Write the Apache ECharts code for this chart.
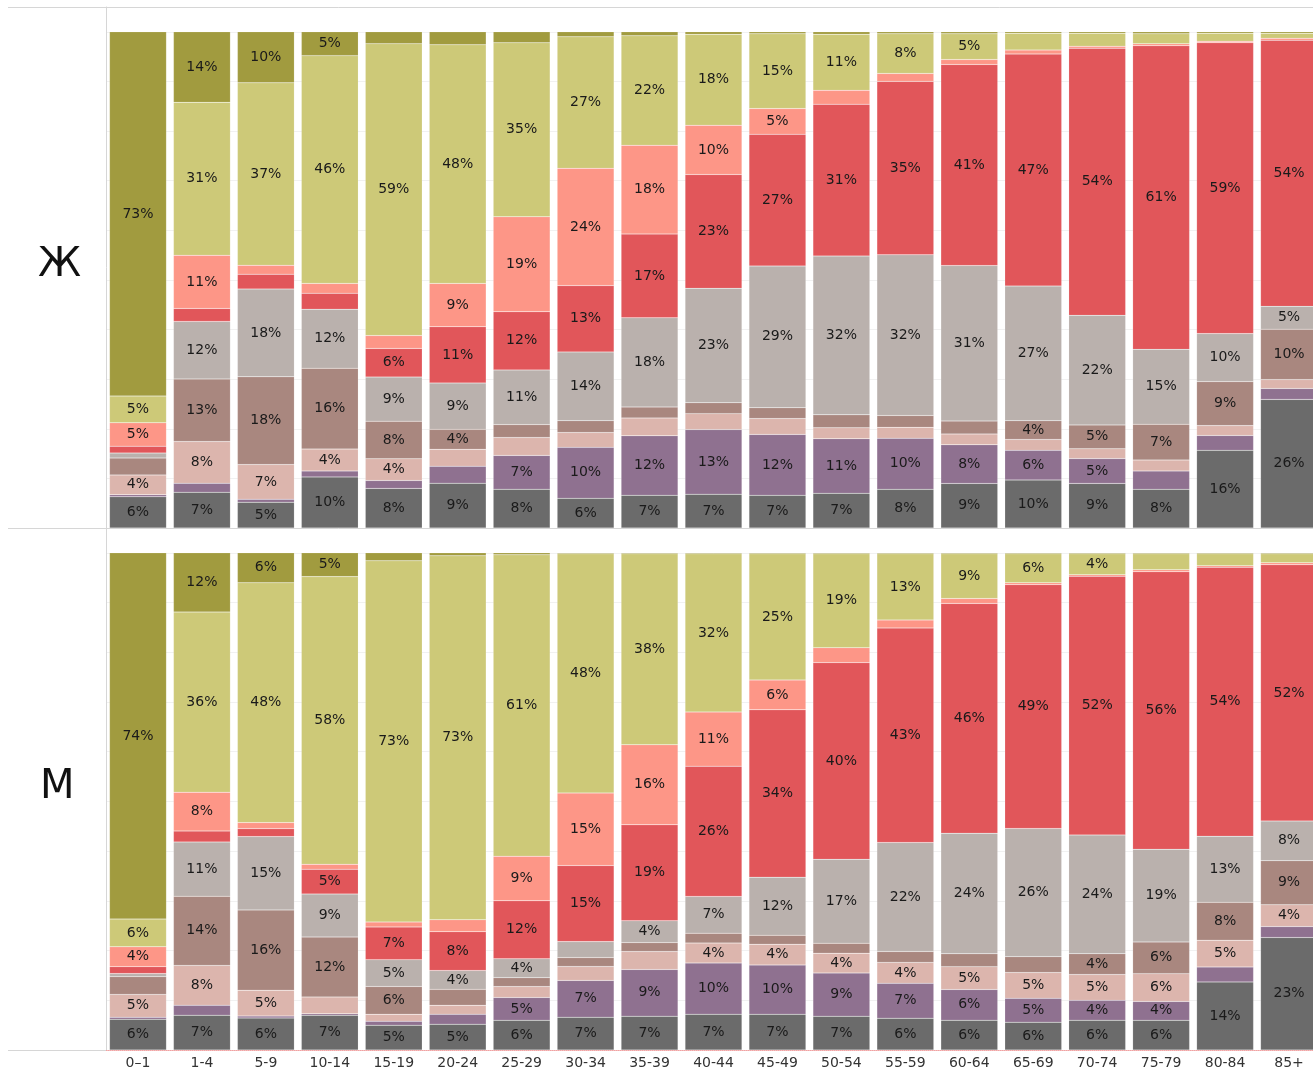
<!DOCTYPE html>
<html><head><meta charset="utf-8">
<script src="https://cdn.jsdelivr.net/npm/echarts@6/dist/echarts.min.js"></script>
<style>html,body{margin:0;padding:0;overflow:hidden;background:#fff}#c{width:1330px;height:1071px}</style>
</head><body><div id="c"></div>
<script>
const categories = ['0–1','1-4','5-9','10-14','15-19','20-24','25-29','30-34','35-39','40-44','45-49','50-54','55-59','60-64','65-69','70-74','75-79','80-84','85+'];
const rowLabels = ['Ж', 'М'];
const seriesNames = ['Категория 1','Категория 2','Категория 3','Категория 4','Категория 5','Категория 6','Категория 7','Категория 8','Категория 9'];

// Ж (bottom to top)
const F_dark   = [6.3, 7.2, 5.2, 10.3, 8, 9, 7.8, 6, 6.6, 6.8, 6.6, 7, 7.8, 9, 9.7, 9, 7.8, 15.7, 26.0];
const F_purple = [0.4, 1.8, 0.6, 1.2, 1.6, 3.4, 6.8, 10.3, 12, 13, 12.3, 11, 10.3, 7.8, 6, 5, 3.7, 3, 2.2];
const F_pink   = [4.0, 8.4, 7, 4.4, 4.4, 3.4, 3.6, 3, 3.6, 3.2, 3.2, 2.2, 2.2, 2.2, 2.2, 2, 2.2, 2, 1.8];
const F_brown  = [3.4, 12.6, 17.7, 16.3, 7.6, 4, 2.6, 2.4, 2.2, 2.2, 2.2, 2.6, 2.4, 2.6, 3.8, 4.8, 7.2, 8.9, 10.2];
const F_gray   = [1.0, 11.6, 17.7, 11.9, 8.9, 9.3, 11, 13.9, 18, 23, 28.6, 32, 32.4, 31.4, 27.2, 22.1, 15.1, 9.7, 4.6];
const F_red    = [1.4, 2.6, 3, 3.2, 5.8, 11.3, 11.7, 13.4, 16.9, 22.9, 26.6, 30.6, 35, 40.6, 46.9, 53.9, 61.2, 58.8, 53.8];
const F_salmon = [4.7, 10.7, 1.8, 2, 2.6, 8.7, 19.1, 23.7, 17.9, 9.9, 5.2, 2.8, 1.6, 1, 0.8, 0.4, 0.4, 0.3, 0.4];
const F_yellow = [5.4, 30.8, 36.8, 45.9, 59, 47.9, 35, 26.6, 22.1, 18.3, 15.1, 11.3, 8, 5.2, 3.4, 2.6, 2, 1.6, 1];
const F_olive  = [73.4, 14.2, 10.3, 4.8, 2.4, 2.6, 2.2, 1, 0.8, 0.5, 0.4, 0.5, 0.4, 0.4, 0.3, 0.3, 0.4, 0.3, 0.3];

// М (bottom to top)
const M_dark   = [6.2, 7, 6.4, 7, 5, 5.2, 6, 6.6, 6.8, 7.2, 7.2, 6.8, 6.4, 6, 5.6, 6, 6, 13.7, 22.7];
const M_purple = [0.4, 2, 0.4, 0.3, 0.8, 2, 4.6, 7.4, 9.4, 10.3, 9.9, 8.7, 7, 6.2, 4.8, 4, 3.8, 3, 2.2];
const M_pink   = [4.6, 8, 5.2, 3.4, 1.4, 1.8, 2.2, 2.8, 3.6, 4, 4.2, 4, 4.2, 4.6, 5.2, 5.2, 5.6, 5.4, 4.4];
const M_brown  = [3.6, 13.9, 16.1, 12.1, 5.6, 3.2, 1.8, 1.8, 1.8, 2, 1.8, 2, 2.2, 2.6, 3.2, 4.2, 6.4, 7.6, 8.9];
const M_gray   = [0.6, 10.9, 14.7, 8.7, 5.4, 3.8, 3.8, 3.2, 4.4, 7.4, 11.7, 16.9, 21.9, 24.3, 25.8, 23.9, 18.7, 13.3, 8];
const M_red    = [1.4, 2.2, 1.6, 5, 6.6, 7.8, 11.7, 15.3, 19.3, 26.2, 33.7, 39.6, 43.1, 46.3, 49.1, 52.1, 56.0, 54.1, 51.7];
const M_salmon = [4, 7.8, 1.2, 1, 1, 2.4, 9, 14.6, 16.1, 10.9, 6, 3, 1.6, 1, 0.4, 0.3, 0.4, 0.3, 0.4];
const M_yellow = [5.6, 36.2, 48.1, 58.1, 72.8, 73.2, 60.8, 48.1, 38.4, 31.8, 25.4, 18.9, 13.3, 9, 5.8, 4.2, 3.2, 2.4, 1.8];
const M_olive  = [73.8, 11.9, 6, 4.8, 1.6, 0.6, 0.4, 0.2, 0.2, 0.2, 0.2, 0.2, 0.2, 0.2, 0.2, 0.2, 0.2, 0.2, 0.2];

const colors = ['#6b6b6b','#8f7190','#dcb5ad','#a9877f','#bab1ad','#e1565a','#fd9687','#cdc978','#a19b3f'];

const panels = [
  [F_dark, F_purple, F_pink, F_brown, F_gray, F_red, F_salmon, F_yellow, F_olive],
  [M_dark, M_purple, M_pink, M_brown, M_gray, M_red, M_salmon, M_yellow, M_olive]
];

const FONT = 'DejaVu Sans';
const series = [];
panels.forEach((arrs, p) => {
  const sums = categories.map((_, i) => arrs.reduce((s, a) => s + a[i], 0));
  arrs.forEach((arr, k) => {
    series.push({
      name: seriesNames[k],
      type: 'bar',
      stack: 'p' + p,
      xAxisIndex: p,
      yAxisIndex: p,
      barCategoryGap: '11%',
      itemStyle: { color: colors[k], borderColor: 'rgba(255,255,255,0.25)', borderWidth: 0.5 },
      label: {
        show: true, position: 'inside', color: '#1a1a1a', fontFamily: FONT, fontSize: 14,
        formatter: (d) => d.value >= 3.75 ? Math.round(d.value) + '%' : ''
      },
      emphasis: { disabled: true },
      data: arr.map((v, i) => v / sums[i] * 100)
    });
  });
});

const chart = echarts.init(document.getElementById('c'), null, { renderer: 'canvas' });
const yAx = (i) => ({
  type: 'value', gridIndex: i, min: 0, max: 105, interval: 10,
  axisLabel: { show: false }, axisTick: { show: false },
  axisLine: { show: true, lineStyle: { color: '#d6d6d6', width: 1 } },
  splitLine: { show: true, lineStyle: { color: '#f1f1f1', width: 1 } }
});
chart.setOption({
  animation: false,
  backgroundColor: '#fff',
  grid: [
    { left: 106, top: 7, width: 1215, height: 521 },
    { left: 106, top: 528, width: 1215, height: 522 }
  ],
  xAxis: [
    { type: 'category', gridIndex: 0, data: categories, axisLabel: { show: false }, axisTick: { show: false }, axisLine: { show: false } },
    { type: 'category', gridIndex: 1, data: categories,
      axisTick: { show: false },
      axisLine: { show: true, lineStyle: { color: '#f2a0a0', type: 'dotted', width: 1 } },
      axisLabel: { color: '#333', fontFamily: FONT, fontSize: 14, margin: 6, interval: 0 } }
  ],
  yAxis: [yAx(0), yAx(1)],
  series: series,
  graphic: [
    { type: 'line', shape: { x1: 8, y1: 7.5, x2: 1330, y2: 7.5 }, style: { stroke: '#d6d6d6', lineWidth: 1 }, z: 10 },
    { type: 'line', shape: { x1: 8, y1: 528.5, x2: 1330, y2: 528.5 }, style: { stroke: '#d6d6d6', lineWidth: 1 }, z: 10 },
    { type: 'line', shape: { x1: 8, y1: 1050.5, x2: 106, y2: 1050.5 }, style: { stroke: '#d6d6d6', lineWidth: 1 }, z: 10 },
    { type: 'text', left: 38, top: 246, style: { text: rowLabels[0], font: '40px ' + FONT, fill: '#111' } },
    { type: 'text', left: 40, top: 768, style: { text: rowLabels[1], font: '40px ' + FONT, fill: '#111' } }
  ]
});
</script></body></html>
